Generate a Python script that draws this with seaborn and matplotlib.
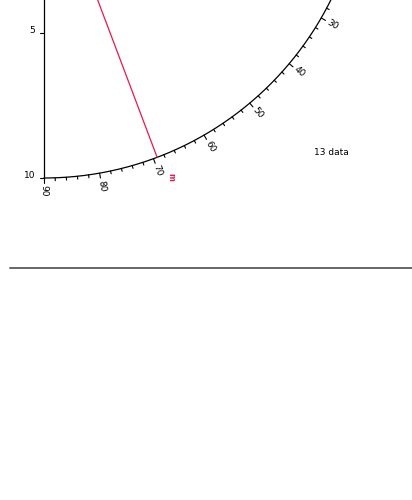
import numpy as np
import pandas as pd
import seaborn as sns
import matplotlib.pyplot as plt
from matplotlib.lines import Line2D

# values
arc_labels = [30, 40, 50, 60, 70, 80, 90]      # labelled ticks on the arc
minor_step = 2                                   # small ticks every 2 units
left_ticks = [5, 10]                             # left axis ticks
mean_value = 69.3                                # red line (m bar)
n_data = 13

# geometry of the arc (in left-axis units)
center_y = -1.0
radius = 11.0
unit = 29.1  # pixels per unit

sns.set_style("white")
plt.rcParams["font.family"] = ["DejaVu Sans"]
plt.rcParams["text.color"] = "black"

fig = plt.figure(figsize=(4.12, 5.0), dpi=100)
ax = fig.add_axes([0, 0, 1, 1])


def on_circle(theta, r):
    t = np.deg2rad(theta)
    return r * np.cos(t), center_y + r * np.sin(t)


# arc
theta = np.linspace(0, 90, 400)
ax_x, ax_y = on_circle(theta, radius)
arc = pd.DataFrame({"x": ax_x, "y": ax_y})
sns.lineplot(data=arc, x="x", y="y", sort=False, color="black", lw=0.9, ax=ax)

# ticks on arc
for t in np.arange(0, 91, minor_step):
    major = t in arc_labels or t % 10 == 0
    tick_len = 0.17 if major else 0.1
    x0, y0 = on_circle(t, radius)
    x1, y1 = on_circle(t, radius + tick_len)
    ax.plot([x0, x1], [y0, y1], color="black", lw=0.8)

for lab in arc_labels:
    lx, ly = on_circle(lab, radius + 0.45)
    ax.text(lx, ly, str(lab), rotation=-lab, rotation_mode="anchor",
            ha="center", va="center", fontsize=6.5, color="black")

# left axis
ax.plot([0, 0], [center_y, radius + center_y], color="black", lw=0.9)
for v in left_ticks:
    ax.plot([-0.14, 0], [v, v], color="black", lw=0.8)
    ax.text(-0.3, v - 0.08, str(v), ha="right", va="center", fontsize=6.5, color="black")

# mean line
mx, my = on_circle(mean_value, radius)
mean_df = pd.DataFrame({"x": [0, mx], "y": [center_y, my]})
sns.lineplot(data=mean_df, x="x", y="y", sort=False, color="#e8194b", lw=0.9, ax=ax)
tx, ty = on_circle(mean_value - 0.9, radius + 0.8)
ax.text(tx, ty, "m", color="#e8194b", rotation=-90, ha="center", va="center",
        fontsize=5.5, fontweight="bold")

ax.text(9.86, 9.11, f"{n_data} data", ha="center", va="center", fontsize=6.5, color="black")

ax.set_xlim(-44 / unit, 368 / unit)
ax.set_ylim(613 / unit, 113 / unit)
ax.axis("off")

# separator line below the plot
fig.add_artist(Line2D([10 / 412, 1], [1 - 268 / 500] * 2, color="#666666", lw=1.4))

fig.savefig("out.png", dpi=100)
